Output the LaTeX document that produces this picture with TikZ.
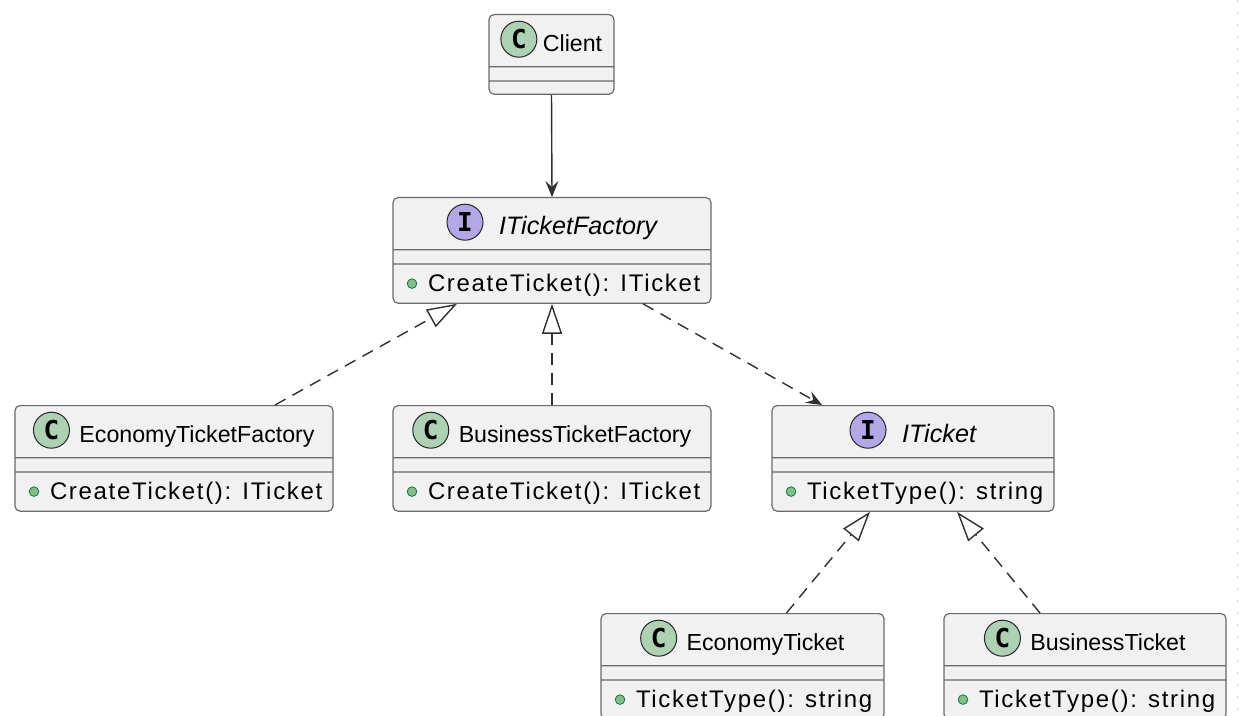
\documentclass[tikz,border=0pt]{standalone}
\usepackage{fontspec}
\setmainfont{Liberation Sans}
\newfontfamily\memberfont[LetterSpace=7]{Liberation Sans}
\newfontfamily\spotfont{DejaVu Sans Mono}
\usetikzlibrary{shapes.multipart,arrows.meta}

\definecolor{classbg}{HTML}{F1F1F1}
\definecolor{classline}{HTML}{6A6A6A}
\definecolor{spotC}{HTML}{ADD1B2}
\definecolor{spotI}{HTML}{B4A7E5}
\definecolor{pubfill}{HTML}{84BE84}
\definecolor{publine}{HTML}{038048}
\definecolor{linkcol}{HTML}{303030}

% header row, empty field row and method row of a class box
\newcommand{\headrow}[2]{\rule[-7.5pt]{0pt}{25.5pt}\hspace*{#1}#2}
\newcommand{\fieldrow}{\rule{0pt}{6.5pt}}
\newcommand{\methodrow}[1]{\memberfont\fontsize{12}{14}\selectfont
  \rule[-5.5pt]{0pt}{19pt}\hspace*{13.5pt}#1}

\begin{document}
\begin{tikzpicture}
      [x=0.5pt, y=-0.5pt,
       umlclass/.style={
           rectangle split,
           rectangle split parts=3,
           rectangle split part align={center,center,left},
           rounded corners=2.5pt,
           draw=classline, line width=0.6pt,
           fill=classbg,
           inner xsep=4pt, inner ysep=0pt,
           font=\fontsize{11.6}{14}\selectfont,
           anchor=north
         },
       spot/.style={
           circle, minimum size=18pt, inner sep=0pt,
           draw=black!85, line width=0.5pt,
           font=\spotfont\bfseries\fontsize{13}{13}\selectfont
         },
       pub/.style={
           circle, minimum size=4.8pt, inner sep=0pt,
           fill=pubfill, draw=publine, line width=0.4pt
         },
       assoc/.style={
           draw=linkcol, line width=0.7pt,
           -{Stealth[length=8pt, width=6.5pt, inset=3pt]}
         },
       depend/.style={
           assoc, dash pattern=on 6pt off 4pt
         },
       realize/.style={
           draw=linkcol, line width=0.7pt, dash pattern=on 6pt off 4pt,
           -{Triangle[open, length=15pt, width=10pt]}
         },
       ]
    \useasboundingbox (0,0) rectangle (1240,716);
    \clip (0,0) rectangle (1240,716);
    \fill[white] (0,0) rectangle (1240,716);
    \draw[black!20, dash pattern=on 1pt off 5pt] (1237,0) -- (1237,716);

    \node [umlclass, minimum width=62.5pt] (client) at (551.5,14) {
      \headrow{21pt}{Client}
      \nodepart{two}
      \fieldrow
      \nodepart{three}
      \rule{0pt}{6pt}
    };

    \node [umlclass, minimum width=159pt] (factory) at (552,197) {
      \headrow{26pt}{{\fontsize{12.6}{14}\selectfont\itshape ITicketFactory}}
      \nodepart{two}
      \fieldrow
      \nodepart{three}
      \methodrow{CreateTicket(): ITicket}
    };

    \node [umlclass, minimum width=159pt] (ecofactory) at (174,405) {
      \headrow{23pt}{EconomyTicketFactory}
      \nodepart{two}
      \fieldrow
      \nodepart{three}
      \methodrow{CreateTicket(): ITicket}
    };

    \node [umlclass, minimum width=159pt] (busfactory) at (552,405) {
      \headrow{23pt}{BusinessTicketFactory}
      \nodepart{two}
      \fieldrow
      \nodepart{three}
      \methodrow{CreateTicket(): ITicket}
    };

    \node [umlclass, minimum width=141pt] (ticket) at (913,405) {
      \headrow{26pt}{{\fontsize{12.6}{14}\selectfont\itshape ITicket}}
      \nodepart{two}
      \fieldrow
      \nodepart{three}
      \methodrow{TicketType(): string}
    };

    \node [umlclass, minimum width=141.5pt] (ecoticket) at (742.5,613) {
      \headrow{23pt}{EconomyTicket}
      \nodepart{two}
      \fieldrow
      \nodepart{three}
      \methodrow{TicketType(): string}
    };

    \node [umlclass, minimum width=141pt] (busticket) at (1085,613) {
      \headrow{23pt}{BusinessTicket}
      \nodepart{two}
      \fieldrow
      \nodepart{three}
      \methodrow{TicketType(): string}
    };

    % class / interface spots
    \node [spot, fill=spotC] (client-spot) at ([xshift=9pt,yshift=6pt]client.text) {C};
    \node [spot, fill=spotI] (factory-spot) at ([xshift=9pt,yshift=6pt]factory.text) {I};
    \node [spot, fill=spotC] (ecofactory-spot) at ([xshift=9pt,yshift=6pt]ecofactory.text) {C};
    \node [spot, fill=spotC] (busfactory-spot) at ([xshift=9pt,yshift=6pt]busfactory.text) {C};
    \node [spot, fill=spotI] (ticket-spot) at ([xshift=9pt,yshift=6pt]ticket.text) {I};
    \node [spot, fill=spotC] (ecoticket-spot) at ([xshift=9pt,yshift=6pt]ecoticket.text) {C};
    \node [spot, fill=spotC] (busticket-spot) at ([xshift=9pt,yshift=6pt]busticket.text) {C};

    % public markers
    \node [pub] (factory-dot) at ([xshift=5.5pt,yshift=4pt]factory.three) {};
    \node [pub] (ecofactory-dot) at ([xshift=5.5pt,yshift=4pt]ecofactory.three) {};
    \node [pub] (busfactory-dot) at ([xshift=5.5pt,yshift=4pt]busfactory.three) {};
    \node [pub] (ticket-dot) at ([xshift=5.5pt,yshift=4pt]ticket.three) {};
    \node [pub] (ecoticket-dot) at ([xshift=5.5pt,yshift=4pt]ecoticket.three) {};
    \node [pub] (busticket-dot) at ([xshift=5.5pt,yshift=4pt]busticket.three) {};

    \draw [assoc] (client.south) -- (factory.north);
    \draw [realize] ([xshift=50.5pt]ecofactory.north) -- ([xshift=-47.5pt]factory.south);
    \draw [realize] (busfactory.north) -- (factory.south);
    \draw [depend] ([xshift=45.5pt]factory.south) -- ([xshift=-45.5pt]ticket.north);
    \draw [realize] ([xshift=22pt]ecoticket.north) -- ([xshift=-21.5pt]ticket.south);
    \draw [realize] ([xshift=-22.5pt]busticket.north) -- ([xshift=22pt]ticket.south);

  \end{tikzpicture}
\end{document}
